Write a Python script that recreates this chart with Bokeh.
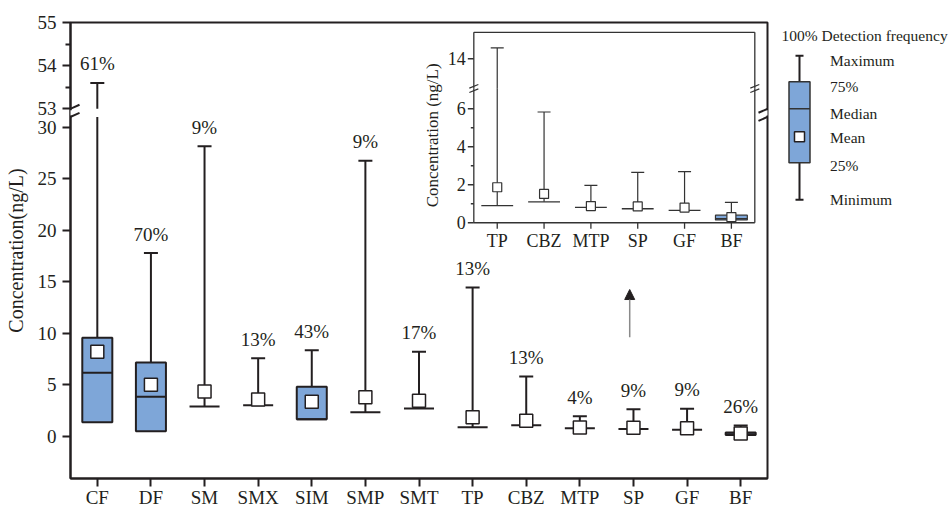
import numpy as np
from bokeh.plotting import figure
from bokeh.layouts import row
from bokeh.models import Range1d, FixedTicker, Arrow, NormalHead
from bokeh.core.properties import value
from bokeh.embed import file_html
from bokeh.resources import INLINE

# ---------------- data ----------------
categories = ["CF", "DF", "SM", "SMX", "SIM", "SMP", "SMT", "TP", "CBZ", "MTP", "SP", "GF", "BF"]
minimum = [1.39, 0.51, 2.91, 3.04, 1.68, 2.36, 2.72, 0.90, 1.10, 0.81, 0.74, 0.65, 0.15]
q1      = [1.39, 0.51, 2.91, 3.04, 1.68, 2.36, 2.72, 0.90, 1.10, 0.81, 0.74, 0.65, 0.15]
median  = [6.18, 3.85, 2.91, 3.04, 1.68, 2.36, 2.72, 0.90, 1.10, 0.81, 0.74, 0.65, 0.22]
q3      = [9.58, 7.18, 2.91, 3.04, 4.82, 2.36, 2.72, 0.90, 1.10, 0.81, 0.74, 0.65, 0.40]
maximum = [53.6, 17.8, 28.15, 7.60, 8.38, 26.75, 8.22, 14.45, 5.83, 1.97, 2.65, 2.69, 1.07]
mean    = [8.22, 5.02, 4.36, 3.59, 3.37, 3.82, 3.46, 1.87, 1.52, 0.88, 0.86, 0.80, 0.30]
detection = [61, 70, 9, 13, 43, 9, 17, 13, 13, 4, 9, 9, 26]

main_ticks_low = [0, 5, 10, 15, 20, 25, 30]
main_ticks_up = [53, 54, 55]
main_minor_up = [53.5, 54.5]

inset_first = 7                      # inset shows TP ... BF
inset_categories = categories[inset_first:]
inset_ticks_low = [0, 2, 4, 6]
inset_minor_low = [1, 3, 5]
inset_ticks_up = [14]

legend_labels = ["Maximum", "75%", "Median", "Mean", "25%", "Minimum"]
legend_title = "100% Detection frequency"
# schematic box for the key: min, q1, mean, median, q3, max
leg_min, leg_q1, leg_mean, leg_median, leg_q3, leg_max = 0.0, 3.7, 6.3, 9.1, 11.8, 14.4
legend_label_y = [leg_max, leg_q3, leg_median, leg_mean, leg_q1, leg_min]

# ---------------- style / layout ----------------
FONT = "Liberation Serif"
INK = "#231f20"
BLUE = "#7EA6D8"

LOW = (-4.07, 40.16)      # lower segment of the broken main axis
UP = (44.43, 55.0)        # upper segment (53-55 visible)
BREAK_LOW, BREAK_HIGH = 31.0, 53.0

IX = (-8.612, 6.271)      # inset x (6 categories occupy 0..6)
IY = (-13.46, 10.54)      # inset lower segment
IYU = (-3.49, 15.51)      # inset upper segment
INSET_BREAK_LOW, INSET_BREAK_HIGH = 7.05, 12.75
INSET_TOP = 15.1

BOX_W, CAP_PX, MEAN_PX = 0.56, 14, 13
IBOX_W, ICAP_PX, IMEAN_PX = 0.68, 13, 9

BORDER_T, BORDER_B = 22, 33


def up2low(v):
    return LOW[0] + (v - UP[0]) / (UP[1] - UP[0]) * (LOW[1] - LOW[0])


n = len(categories)
xs = [i + 0.5 for i in range(n)]

p = figure(width=770, height=511, x_range=Range1d(0, n),
           y_range=Range1d(*LOW), output_backend="svg", toolbar_location=None,
           min_border_left=70, min_border_right=3, min_border_top=BORDER_T, min_border_bottom=BORDER_B,
           background_fill_color="white", border_fill_color="white")
p.extra_y_ranges = {"up": Range1d(*UP), "iy": Range1d(*IY), "iyu": Range1d(*IYU)}
p.extra_x_ranges = {"ix": Range1d(*IX)}
p.xgrid.visible = False
p.ygrid.visible = False
p.outline_line_color = INK
p.outline_line_width = 2

# axes
for ax in (p.xaxis[0], p.yaxis[0]):
    ax.axis_line_color = INK
    ax.axis_line_width = 2
    ax.major_tick_line_color = INK
    ax.major_tick_line_width = 2
    ax.minor_tick_line_color = INK
    ax.minor_tick_line_width = 2
    ax.major_tick_in = 0
    ax.major_tick_out = 8
    ax.major_label_text_font = FONT
    ax.major_label_text_font_size = "19px"
    ax.major_label_text_color = INK

p.xaxis.ticker = FixedTicker(ticks=xs, minor_ticks=[])
p.xaxis.major_label_overrides = {x: c for x, c in zip(xs, categories)}
p.xaxis.major_label_standoff = 0
up_pos = [round(up2low(v), 6) for v in main_ticks_up]
up_minor = [round(up2low(v), 6) for v in main_minor_up]
p.yaxis.ticker = FixedTicker(ticks=main_ticks_low + up_pos, minor_ticks=up_minor)
p.yaxis.major_label_overrides = {pos: str(v) for pos, v in zip(up_pos, main_ticks_up)}
p.yaxis.minor_tick_in = 0
p.yaxis.minor_tick_out = 5
p.yaxis.major_label_standoff = 6
p.yaxis.axis_label = "Concentration(ng/L)"
p.yaxis.axis_label_text_font = FONT
p.yaxis.axis_label_text_font_size = "20px"
p.yaxis.axis_label_text_font_style = "normal"
p.yaxis.axis_label_text_color = INK
p.yaxis.axis_label_standoff = 8

# ---- main boxes ----
low_top = [min(m, BREAK_LOW) for m in maximum]
p.segment(x0=xs, y0=q3, x1=xs, y1=low_top, line_color=INK, line_width=2)
p.segment(x0=xs, y0=minimum, x1=xs, y1=q1, line_color=INK, line_width=2)
hi = [i for i in range(n) if maximum[i] > BREAK_LOW]
lo = [i for i in range(n) if maximum[i] <= BREAK_LOW]
p.segment(x0=[xs[i] for i in hi], y0=[BREAK_HIGH] * len(hi), x1=[xs[i] for i in hi],
          y1=[maximum[i] for i in hi], y_range_name="up", line_color=INK, line_width=2)

bx = [i for i in range(n) if q3[i] > q1[i]]
p.quad(left=[xs[i] - BOX_W / 2 for i in bx], right=[xs[i] + BOX_W / 2 for i in bx],
       bottom=[q1[i] for i in bx], top=[q3[i] for i in bx],
       fill_color=BLUE, line_color=INK, line_width=2)
p.segment(x0=[x - BOX_W / 2 for x in xs], y0=median, x1=[x + BOX_W / 2 for x in xs], y1=median,
          line_color=INK, line_width=2)
p.scatter(x=[xs[i] for i in lo], y=[maximum[i] for i in lo], marker="dash", size=CAP_PX,
          line_color=INK, line_width=2)
p.scatter(x=[xs[i] for i in hi], y=[maximum[i] for i in hi], marker="dash", size=CAP_PX,
          line_color=INK, line_width=2, y_range_name="up")
p.scatter(x=xs, y=mean, marker="square", size=MEAN_PX, fill_color="white",
          line_color=INK, line_width=1.5)

pct = [f"{d}%" for d in detection]
p.text(x=[xs[i] for i in lo], y=[maximum[i] for i in lo], text=[pct[i] for i in lo],
       y_offset=-19, text_align="center", text_baseline="middle", text_font=value(FONT),
       text_font_size="19px", text_color=INK)
p.text(x=[xs[i] for i in hi], y=[maximum[i] for i in hi], text=[pct[i] for i in hi],
       y_offset=-19, text_align="center", text_baseline="middle", text_font=value(FONT),
       text_font_size="19px", text_color=INK, y_range_name="up")


# ---- break marks ----
def slash(x, y, dx, dy, yr="default", xr="default", width=2):
    p.add_layout(Arrow(end=None, x_start=x - dx, y_start=y - dy, x_end=x + dx, y_end=y + dy,
                       line_color=INK, line_width=width, x_range_name=xr, y_range_name=yr))


def gap(x, y0, y1, yr="default", xr="default", width=5):
    p.add_layout(Arrow(end=None, x_start=x, y_start=y0, x_end=x, y_end=y1,
                       line_color="white", line_width=width, x_range_name=xr, y_range_name=yr))


for xe in (0, n):
    gap(xe, BREAK_LOW + 0.15, up2low(BREAK_HIGH) - 0.15)
    slash(xe, BREAK_LOW, 9 / 53.6, 4 / 10.31)
    slash(xe, BREAK_HIGH, 9 / 53.6, 4 / 43.15, yr="up")

# arrow pointing at the inset
p.add_layout(Arrow(end=NormalHead(size=10, fill_color=INK, line_color=INK),
                   x_start=10.43, y_start=9.63, x_end=10.43, y_end=14.26,
                   line_color="#8a8a8a", line_width=1.5))

# ---------------- inset ----------------
m = len(inset_categories)
ixs = [i + 0.5 for i in range(m)]
iq1 = q1[inset_first:]
iq3 = q3[inset_first:]
imed = median[inset_first:]
imin = minimum[inset_first:]
imax = maximum[inset_first:]
imean = mean[inset_first:]
IINK = "#333333"
kw_i = dict(x_range_name="ix", y_range_name="iy")
kw_u = dict(x_range_name="ix", y_range_name="iyu")

# frame
p.segment(x0=[0, 0, m], y0=[0, 0, 0], x1=[m, 0, m], y1=[0, INSET_BREAK_LOW, INSET_BREAK_LOW],
          line_color=IINK, line_width=1.3, **kw_i)
p.segment(x0=[0, 0, m], y0=[INSET_TOP, INSET_BREAK_HIGH, INSET_BREAK_HIGH],
          x1=[m, 0, m], y1=[INSET_TOP, INSET_TOP, INSET_TOP],
          line_color=IINK, line_width=1.3, **kw_u)
# ticks
p.ray(x=[0] * len(inset_ticks_low), y=inset_ticks_low, length=6, length_units="screen",
      angle=np.pi, line_color=IINK, line_width=1.3, **kw_i)
p.ray(x=[0] * len(inset_minor_low), y=inset_minor_low, length=3, length_units="screen",
      angle=np.pi, line_color=IINK, line_width=1.3, **kw_i)
p.ray(x=[0] * len(inset_ticks_up), y=inset_ticks_up, length=6, length_units="screen",
      angle=np.pi, line_color=IINK, line_width=1.3, **kw_u)
p.ray(x=ixs, y=[0] * m, length=6, length_units="screen", angle=-np.pi / 2,
      line_color=IINK, line_width=1.3, **kw_i)
# tick labels
p.text(x=[0] * len(inset_ticks_low), y=inset_ticks_low, text=[str(t) for t in inset_ticks_low],
       x_offset=-8, text_align="right", text_baseline="middle", text_font=value(FONT),
       text_font_size="18px", text_color=INK, **kw_i)
p.text(x=[0] * len(inset_ticks_up), y=inset_ticks_up, text=[str(t) for t in inset_ticks_up],
       x_offset=-8, text_align="right", text_baseline="middle", text_font=value(FONT),
       text_font_size="18px", text_color=INK, **kw_u)
p.text(x=ixs, y=[0] * m, text=inset_categories, y_offset=8, text_align="center",
       text_baseline="top", text_font=value(FONT), text_font_size="18px", text_color=INK, **kw_i)
p.text(x=[0], y=[4.6], text=["Concentration (ng/L)"], x_offset=-41, angle=np.pi / 2,
       text_align="center", text_baseline="middle", text_font=value(FONT),
       text_font_size="17px", text_color=INK, **kw_i)

# inset boxes
ilow_top = [min(v, INSET_BREAK_LOW) for v in imax]
p.segment(x0=ixs, y0=iq3, x1=ixs, y1=ilow_top, line_color=IINK, line_width=1.2, **kw_i)
ihi = [i for i in range(m) if imax[i] > INSET_BREAK_LOW]
ilo = [i for i in range(m) if imax[i] <= INSET_BREAK_LOW]
p.segment(x0=[ixs[i] for i in ihi], y0=[INSET_BREAK_HIGH] * len(ihi), x1=[ixs[i] for i in ihi],
          y1=[imax[i] for i in ihi], line_color=IINK, line_width=1.2, **kw_u)
ibx = [i for i in range(m) if iq3[i] > iq1[i]]
p.quad(left=[ixs[i] - IBOX_W / 2 for i in ibx], right=[ixs[i] + IBOX_W / 2 for i in ibx],
       bottom=[iq1[i] for i in ibx], top=[iq3[i] for i in ibx],
       fill_color=BLUE, line_color=IINK, line_width=1.2, **kw_i)
p.segment(x0=[x - IBOX_W / 2 for x in ixs], y0=imed, x1=[x + IBOX_W / 2 for x in ixs], y1=imed,
          line_color=IINK, line_width=1.4, **kw_i)
p.scatter(x=[ixs[i] for i in ilo], y=[imax[i] for i in ilo], marker="dash", size=ICAP_PX,
          line_color=IINK, line_width=1.2, **kw_i)
p.scatter(x=[ixs[i] for i in ihi], y=[imax[i] for i in ihi], marker="dash", size=ICAP_PX,
          line_color=IINK, line_width=1.2, **kw_u)
p.scatter(x=ixs, y=imean, marker="square", size=IMEAN_PX, fill_color="white",
          line_color=IINK, line_width=1.2, **kw_i)


# inset break marks
def islash(x, y, yr):
    dy = 1.8 / (19.0 if yr == "iy" else 24.0)
    p.add_layout(Arrow(end=None, x_start=x - 4.5 / 46.83, y_start=y - dy, x_end=x + 4.5 / 46.83,
                       y_end=y + dy, line_color=IINK, line_width=1.2, x_range_name="ix",
                       y_range_name=yr))


for xe in (0, m):
    islash(xe, INSET_BREAK_LOW - 0.1, "iy")
    islash(xe, INSET_BREAK_HIGH + 0.1, "iyu")

# ---------------- key (schematic box) ----------------
# frame aligned with main plot frame (22..478 px); 10 px per schematic unit, 0 at 199 px
leg = figure(width=182, height=511, x_range=Range1d(-2.9, 15.3), y_range=Range1d(-27.87, 17.73),
             output_backend="svg", toolbar_location=None, x_axis_location=None, y_axis_location=None,
             min_border_left=0, min_border_right=0, min_border_top=BORDER_T, min_border_bottom=BORDER_B,
             outline_line_color=None, background_fill_color="white", border_fill_color="white")
leg.grid.visible = False
leg.segment(x0=[0, 0], y0=[leg_min, leg_q3], x1=[0, 0], y1=[leg_q1, leg_max], line_color=INK, line_width=2)
leg.vbar(x=[0], width=2.1, bottom=[leg_q1], top=[leg_q3], fill_color=BLUE, line_color=IINK, line_width=1.5)
leg.segment(x0=[-1.05], y0=[leg_median], x1=[1.05], y1=[leg_median], line_color=IINK, line_width=1.5)
leg.scatter(x=[0, 0], y=[leg_min, leg_max], marker="dash", size=8, line_color=INK, line_width=2)
leg.scatter(x=[0], y=[leg_mean], marker="square", size=10, fill_color="white", line_color=INK, line_width=1.5)
leg.text(x=[3.05] * len(legend_labels), y=legend_label_y, text=legend_labels,
         y_offset=[5, 5, 5, 1, 3, 0], text_align="left", text_baseline="middle",
         text_font=value(FONT), text_font_size="15.5px", text_color=INK)
leg.text(x=[-1.8], y=[16.43], text=[legend_title], text_align="left", text_baseline="middle",
         text_font=value(FONT), text_font_size="15.5px", text_color=INK)

layout = row(p, leg)
open("out.html", "w").write(file_html(layout, INLINE))
